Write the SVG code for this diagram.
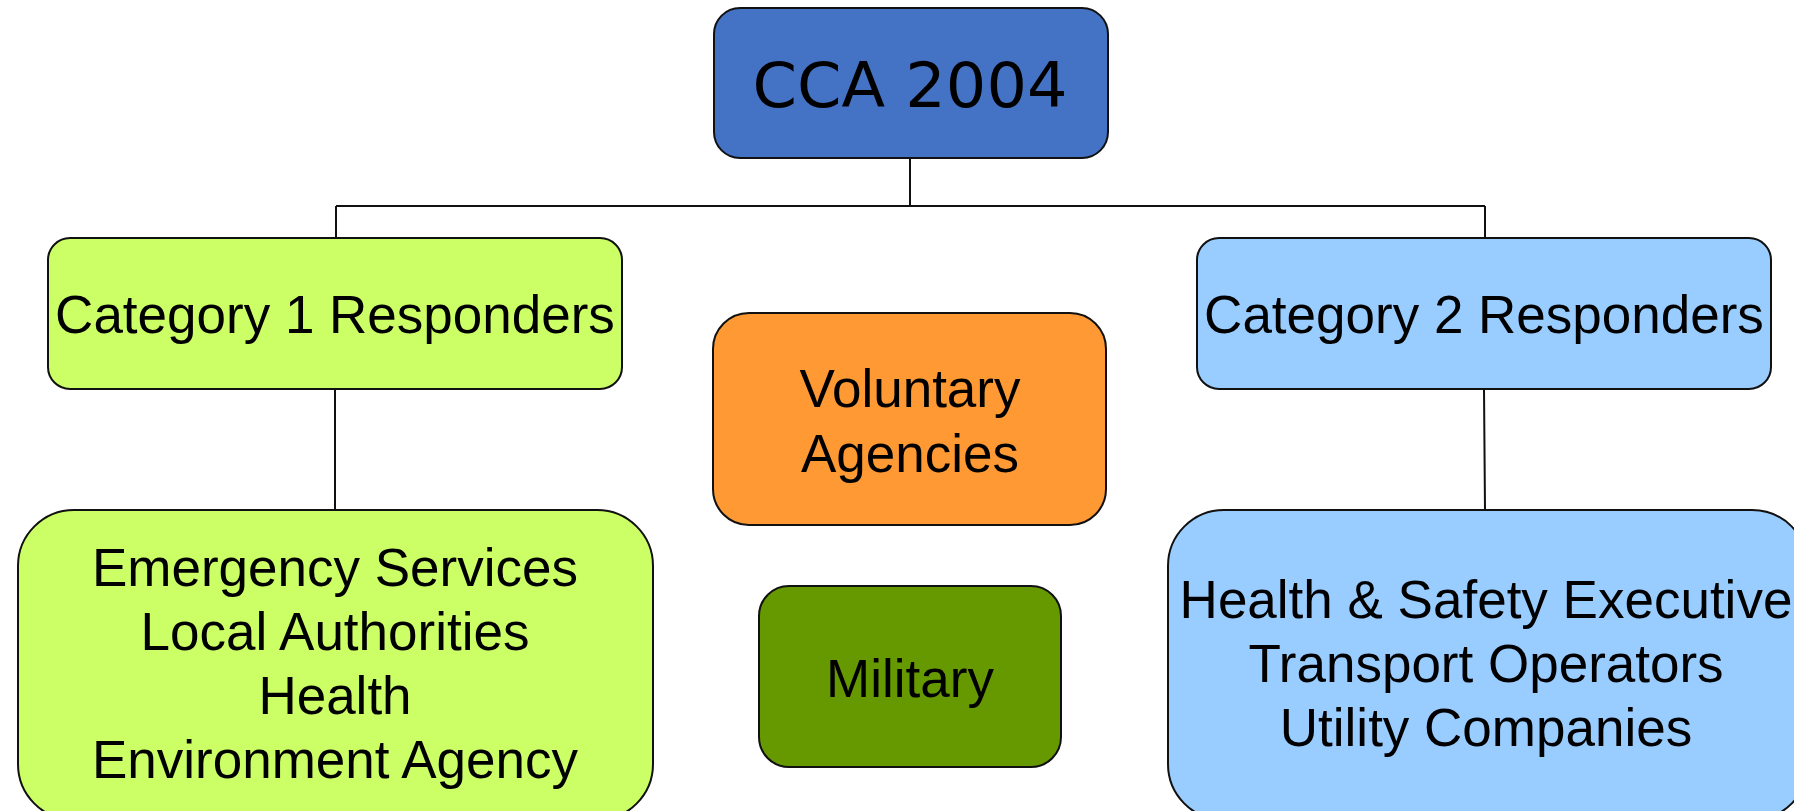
<svg xmlns="http://www.w3.org/2000/svg" width="1794" height="811" viewBox="0 0 1794 811">
<style>
.box{stroke:#111;stroke-width:2}
.t{font-family:"Liberation Sans",Arial,sans-serif;font-size:53px;fill:#000;text-anchor:middle}
.c{stroke:#111;stroke-width:2;fill:none}
</style>
<rect width="1794" height="811" fill="#fff"/>
<g id="connectors">
<path class="c" d="M910,158 V206 M336,206 H1485 M336,206 V238 M1485,206 V238 M335,389 V510 M1484,389 L1485,510"/>
</g>
<g id="cca">
<rect class="box" x="714" y="8" width="394" height="150" rx="26" fill="#4472C4"/>
<text x="910" y="107" font-family="DejaVu Sans,Verdana,sans-serif" font-size="62" text-anchor="middle" textLength="315" lengthAdjust="spacingAndGlyphs">CCA 2004</text>
</g>
<g id="cat1">
<rect class="box" x="48" y="238" width="574" height="151" rx="22" fill="#CCFF66"/>
<text class="t" x="335" y="333">Category 1 Responders</text>
</g>
<g id="cat2">
<rect class="box" x="1197" y="238" width="574" height="151" rx="22" fill="#99CCFF"/>
<text class="t" x="1484" y="333">Category 2 Responders</text>
</g>
<g id="voluntary">
<rect class="box" x="713" y="313" width="393" height="212" rx="36" fill="#FF9933"/>
<text class="t" x="910" y="407">Voluntary</text>
<text class="t" x="910" y="472">Agencies</text>
</g>
<g id="military">
<rect class="box" x="759" y="586" width="302" height="181" rx="30" fill="#669900"/>
<text class="t" x="910" y="697">Military</text>
</g>
<g id="cat1list">
<rect class="box" x="18" y="510" width="635" height="310" rx="56" fill="#CCFF66"/>
<text class="t" x="335" y="586">Emergency Services</text>
<text class="t" x="335" y="650">Local Authorities</text>
<text class="t" x="335" y="714">Health</text>
<text class="t" x="335" y="778">Environment Agency</text>
</g>
<g id="cat2list">
<rect class="box" x="1168" y="510" width="640" height="310" rx="56" fill="#99CCFF"/>
<text class="t" x="1486" y="618">Health &amp; Safety Executive</text>
<text class="t" x="1486" y="682">Transport Operators</text>
<text class="t" x="1486" y="746">Utility Companies</text>
</g>
</svg>
